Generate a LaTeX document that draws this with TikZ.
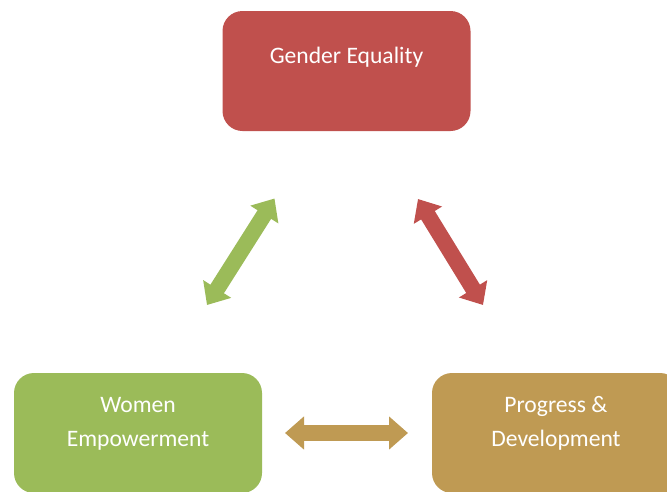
\documentclass[tikz,border=0pt]{standalone}
\usepackage{fontspec}
\setmainfont{Carlito}
\usetikzlibrary{arrows.meta}

\definecolor{ge red}{HTML}{C0504D}
\definecolor{we green}{HTML}{9BBB59}
\definecolor{pd tan}{HTML}{BF9A53}

\tikzset{
    block/.style={rounded corners=20pt, minimum width=248pt, minimum height=120pt, inner sep=0pt},
    caption/.style={text=white, font=\fontsize{23.6}{34}\selectfont, align=center, inner sep=0pt},
    link/.style={line width=16pt, {Triangle[length=19pt,width=32pt]}-{Triangle[length=19pt,width=32pt]}}
}

\begin{document}
\begin{tikzpicture}[x=1pt, y=-1pt]

    \useasboundingbox (0,0) rectangle (667,491);
    \clip (0,0) rectangle (667,491);

    % Boxes
    \node[block, fill=ge red] (ge) at (346.5,71) {};
    \node[block, fill=we green] (we) at (138,433) {};
    \node[block, fill=pd tan] (pd) at (556,433) {};

    % Labels (base = last line)
    \node[caption, anchor=base] (ge-text) at (346.5,63) {Gender Equality};
    \node[caption, anchor=base] (we-text) at (138,446) {Women\\Empowerment};
    \node[caption, anchor=base] (pd-text) at (556,446) {Progress \&\\Development};

    % Arrow ends
    \coordinate (we-up) at (207,305);
    \coordinate (ge-left) at (274.5,198.5);
    \coordinate (ge-right) at (418,199);
    \coordinate (pd-up) at (483,305);
    \coordinate (we-right) at (285,433);
    \coordinate (pd-left) at (408,433);

    % Two-way arrows
    \draw[link, we green] (we-up) -- (ge-left);
    \draw[link, ge red] (ge-right) -- (pd-up);
    \draw[link, pd tan] (we-right) -- (pd-left);

\end{tikzpicture}
\end{document}
